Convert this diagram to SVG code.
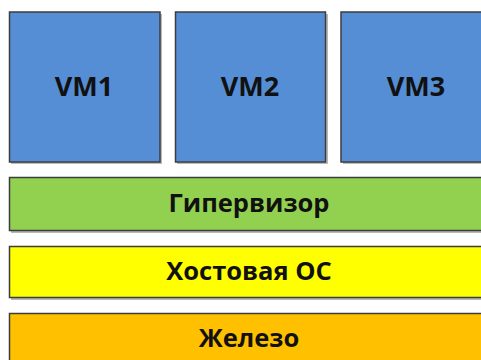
<svg xmlns="http://www.w3.org/2000/svg" width="481" height="360" viewBox="0 0 481 360">
  <style>
    .box { stroke: #3c3c3c; stroke-width: 1.5; }
    .shadow { fill: #b8b8b8; }
    .vm { fill: #558ed5; }
    .hyp { fill: #92d050; }
    .os { fill: #ffff00; }
    .hw { fill: #ffc000; }
    .label { font-family: "Open Sans", "Noto Sans", sans-serif; font-weight: bold; fill: #111; text-anchor: middle; }
    .big { font-size: 27px; }
    .mid { font-size: 25.5px; }
  </style>
  <rect width="481" height="360" fill="#ffffff"/>

  <g id="vm1">
    <rect class="shadow" x="11" y="14" width="151" height="150"/>
    <rect class="box vm" x="9.5" y="12" width="150.5" height="150"/>
    <text class="label big" x="84" y="96">VM1</text>
  </g>
  <g id="vm2">
    <rect class="shadow" x="177" y="14" width="151" height="150"/>
    <rect class="box vm" x="175.5" y="12" width="150" height="150"/>
    <text class="label big" x="250" y="96">VM2</text>
  </g>
  <g id="vm3">
    <rect class="shadow" x="343" y="14" width="151" height="150"/>
    <rect class="box vm" x="341" y="12" width="150" height="150"/>
    <text class="label big" x="416" y="96">VM3</text>
  </g>

  <g id="hypervisor">
    <rect class="shadow" x="11" y="179" width="482" height="54"/>
    <rect class="box hyp" x="9.5" y="177.5" width="481" height="53"/>
    <text class="label mid" x="249" y="212">Гипервизор</text>
  </g>
  <g id="host-os">
    <rect class="shadow" x="11" y="248" width="482" height="52"/>
    <rect class="box os" x="9.5" y="246.5" width="481" height="51"/>
    <text class="label mid" x="249" y="280">Хостовая ОС</text>
  </g>
  <g id="hardware">
    <rect class="shadow" x="11" y="315" width="482" height="52"/>
    <rect class="box hw" x="9.5" y="313.5" width="481" height="52"/>
    <text class="label mid" x="249" y="347">Железо</text>
  </g>

  <g id="connectors"/>
</svg>
